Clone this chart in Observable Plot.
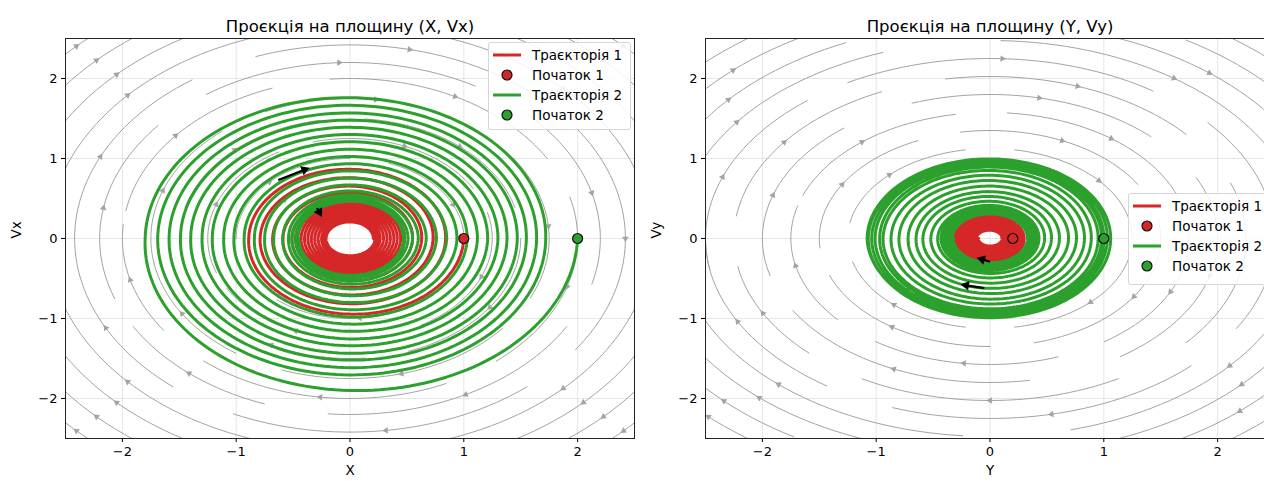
<!DOCTYPE html>
<html>
<head>
<meta charset="utf-8">
<script src="https://cdn.jsdelivr.net/npm/d3@7"></script>
<script src="https://cdn.jsdelivr.net/npm/@observablehq/plot@0.6"></script>
<style>
  html, body { margin: 0; padding: 0; background: #fff; }
  body { width: 1264px; height: 481px; overflow: hidden; position: relative; font-family: "DejaVu Sans", sans-serif; }
  .panel { position: absolute; top: 0; width: 640px; height: 481px; }
  .panel svg { max-width: none !important; display: block; }
  .legend { position: absolute; background: rgba(255,255,255,0.85); border: 1px solid #d6d6d6; border-radius: 3px; font-size: 13.5px; color: #000; box-sizing: border-box; }
  .legend .row { position: absolute; left: 0; height: 20px; display: flex; align-items: center; white-space: nowrap; }
  .legend .row svg { margin-left: 4px; margin-right: 11px; }
</style>
</head>
<body>
<div id="left" class="panel" style="left:0px"></div>
<div id="right" class="panel" style="left:640px"></div>
<div id="legendLeft" class="legend" style="left:488px; top:42px; width:143px; height:88px;"></div>
<div id="legendRight" class="legend" style="left:1128px; top:193px; width:150px; height:92px;"></div>
<script>
// ---------------- data ----------------
const RED = "#d62728", GREEN = "#2ca02c";
const ticks = [-2, -1, 0, 1, 2];
const domain = [-2.5, 2.5];

const titles = ["Проєкція на площину (X, Vx)", "Проєкція на площину (Y, Vy)"];
const xLabels = ["X", "Y"];
const yLabels = ["Vx", "Vy"];

const legendLabels = ["Траєкторія 1", "Початок 1", "Траєкторія 2", "Початок 2"];
const legendKinds = ["line", "dot", "line", "dot"];
const legendColors = [RED, RED, GREEN, GREEN];

// Trajectory amplitudes at successive crossings of the position axis
// (even index: right crossing, odd index: left crossing)
const xRed = [1.00, 0.89, 0.84, 0.79, 0.73, 0.68, 0.63, 0.59, 0.55, 0.51, 0.48, 0.46, 0.445, 0.43, 0.415, 0.40, 0.385, 0.37, 0.355, 0.34, 0.325, 0.31, 0.295, 0.28, 0.265, 0.25, 0.24, 0.23, 0.22, 0.21, 0.205];
const xGreen = [2.00, 1.80, 1.72, 1.69, 1.64, 1.59, 1.55, 1.49, 1.47, 1.40, 1.38, 1.30, 1.30, 1.21, 1.21, 1.11, 1.12, 1.02, 1.03, 0.93, 0.94, 0.84, 0.85, 0.75, 0.76, 0.67, 0.67, 0.59, 0.60, 0.54, 0.55, 0.51, 0.51, 0.48, 0.48, 0.46, 0.47, 0.45];
const yRed = [0.20, 0.22, 0.24, 0.27, 0.28, 0.31, 0.30, 0.32, 0.29, 0.30, 0.27, 0.28, 0.25, 0.26, 0.23, 0.24, 0.21, 0.22, 0.19, 0.20, 0.17, 0.18, 0.15, 0.16, 0.13, 0.14, 0.115, 0.12, 0.105, 0.10];
const yGreen = [1.00, 1.08, 1.06, 1.07, 1.03, 1.04, 1.00, 1.01, 0.98, 0.97, 0.95, 0.94, 0.89, 0.87, 0.83, 0.80, 0.76, 0.72, 0.69, 0.65, 0.61, 0.59, 0.54, 0.52, 0.48, 0.46, 0.43, 0.43, 0.42, 0.41, 0.40, 0.39, 0.38, 0.37, 0.36, 0.35, 0.34, 0.33, 0.33, 0.32];
// velocity/position amplitude ratio of each projection
const xRatio = [1.0, 1.0];
const yRatio = [0.92, 0.93];

// start points
const xStartPos = [1, 2], xStartVel = [0, 0];
const yStartPos = [0.2, 1], yStartVel = [0, 0];

// black direction arrows (from -> to)
const xArrowX1 = [-0.63, -0.29], xArrowY1 = [0.73, 0.38], xArrowX2 = [-0.40, -0.27], xArrowY2 = [0.86, 0.33];
const yArrowX1 = [-0.05, 0.00], yArrowY1 = [-0.62, -0.29], yArrowX2 = [-0.21, -0.07], yArrowY2 = [-0.585, -0.26];

// gray streamline arcs: radius, start angle, end angle (degrees, flow runs clockwise)
const xStreamR    = [3.4, 3.4, 3.4, 3.4, 3.15, 3.15, 3.15, 3.15, 2.9, 2.9, 2.9, 2.9, 2.65, 2.65, 2.65, 2.65, 2.42, 2.42, 2.42, 2.42, 2.42, 2.2, 2.2, 2.2, 2.2, 2.2, 2.0, 2.0, 2.0, 2.0, 2.0, 1.75, 1.75, 1.75, 1.75, 1.75, 1.5, 1.5, 1.5, 1.5, 1.25, 1.25, 1.25, 1.25, 1.0, 1.0, 1.0, 0.75, 0.75];
const xStreamFrom = [150, 60, -30, -120, 155, 65, -25, -115, 160, 70, -20, -110, 175, 80, -10, -100, 185, 110, 35, -50, -130, 200, 125, 45, -30, -110, 170, 95, 15, -65, -145, 190, 115, 35, -40, -125, 165, 85, 0, -85, 200, 105, 15, -75, 180, 70, -40, 200, 60];
const xStreamTo   = [120, 30, -60, -150, 115, 25, -65, -155, 110, 20, -70, -160, 100, 10, -80, -175, 125, 45, -35, -115, -175, 140, 60, -15, -95, -150, 110, 30, -50, -130, -185, 130, 50, -25, -110, -170, 100, 15, -70, -150, 120, 30, -60, -150, 90, -20, -130, 80, -60];

const yStreamR    = [3.5, 3.5, 3.5, 3.5, 3.25, 3.25, 3.25, 3.25, 3.0, 3.0, 3.0, 3.0, 2.75, 2.75, 2.75, 2.75, 2.5, 2.5, 2.5, 2.5, 2.5, 2.25, 2.25, 2.25, 2.25, 2.25, 2.0, 2.0, 2.0, 2.0, 1.75, 1.75, 1.75, 1.75, 1.75, 1.5, 1.5, 1.5, 1.5, 1.25, 1.25, 1.25, 1.25];
const yStreamFrom = [155, 62, -28, -118, 150, 58, -30, -122, 165, 75, -15, -105, 178, 88, -5, -95, 190, 120, 40, -45, -125, 172, 100, 20, -60, -135, 195, 110, 25, -80, 160, 85, 5, -70, -140, 185, 100, 10, -90, 170, 80, -10, -100];
const yStreamTo   = [122, 28, -62, -152, 118, 22, -65, -150, 115, 25, -70, -160, 110, 20, -75, -170, 130, 55, -30, -110, -180, 115, 40, -40, -120, -170, 130, 45, -55, -150, 100, 20, -55, -125, -195, 115, 30, -75, -160, 100, 0, -80, -165];

// ---------------- layout ----------------
const W = 640, H = 481, mL = 65, mR = 6, mT = 38, mB = 43;
const kx = (W - mL - mR) / (domain[1] - domain[0]);
const ky = (H - mT - mB) / (domain[1] - domain[0]);
const fmt = d => (d < 0 ? "\u2212" : "") + Math.abs(d);
const screenAngle = (dx, dy) => Math.atan2(dx * kx, dy * ky) * 180 / Math.PI; // data direction -> dot rotation

function spiralPoints(amps, ratio) {
  const pts = [];
  const steps = 90;
  for (let k = 0; k < amps.length - 1; k++) {
    for (let i = 0; i < steps; i++) {
      const t = i / steps;
      const th = Math.PI * (k + t);
      const r = amps[k] + (amps[k + 1] - amps[k]) * t;
      pts.push({x: r * Math.cos(th), y: -ratio * r * Math.sin(th)});
    }
  }
  const n = amps.length - 1, th = Math.PI * n, r = amps[n];
  pts.push({x: r * Math.cos(th), y: -ratio * r * Math.sin(th)});
  return pts;
}

function streamData(R, A0, A1, ratio) {
  const pts = [], heads = [];
  R.forEach((r, i) => {
    const a0 = A0[i], a1 = A1[i];
    const n = Math.max(4, Math.round(Math.abs(a0 - a1) / 2));
    for (let j = 0; j <= n; j++) {
      const a = (a0 + (a1 - a0) * j / n) * Math.PI / 180;
      pts.push({id: i, x: r * Math.cos(a), y: ratio * r * Math.sin(a)});
    }
    const am = ((a0 + a1) / 2) * Math.PI / 180;
    heads.push({x: r * Math.cos(am), y: ratio * r * Math.sin(am), rot: screenAngle(Math.sin(am), -ratio * Math.cos(am))});
  });
  return {pts, heads};
}

function panel(p) {
  const red = spiralPoints(p.red, p.ratio[0]);
  const green = spiralPoints(p.green, p.ratio[1]);
  const st = streamData(p.sR, p.sF, p.sT, p.sRatio);
  const starts = p.startPos.map((v, i) => ({x: v, y: p.startVel[i], c: i === 0 ? RED : GREEN}));
  const arrows = p.ax1.map((v, i) => ({x1: v, y1: p.ay1[i], x2: p.ax2[i], y2: p.ay2[i],
    rot: screenAngle(p.ax2[i] - v, p.ay2[i] - p.ay1[i])}));
  return Plot.plot({
    width: W, height: H, marginLeft: mL, marginRight: mR, marginTop: mT, marginBottom: mB,
    x: {domain}, y: {domain},
    style: {fontFamily: "'DejaVu Sans', sans-serif", fontSize: "13px", color: "#000", background: "transparent", overflow: "visible"},
    marks: [
      Plot.gridX(ticks, {stroke: "#b0b0b0", strokeOpacity: 0.4, strokeWidth: 0.8}),
      Plot.gridY(ticks, {stroke: "#b0b0b0", strokeOpacity: 0.4, strokeWidth: 0.8}),
      Plot.line(st.pts, {x: "x", y: "y", z: "id", stroke: "#a3a3a3", strokeWidth: 1, clip: true}),
      Plot.dot(st.heads, {x: "x", y: "y", symbol: "triangle", r: 2.4, fill: "#a3a3a3", stroke: "none", rotate: "rot", clip: true}),
      Plot.line(red, {x: "x", y: "y", stroke: RED, strokeWidth: 3, clip: true}),
      Plot.line(green, {x: "x", y: "y", stroke: GREEN, strokeWidth: 3, clip: true}),
      Plot.dot(starts, {x: "x", y: "y", r: 5, fill: "c", stroke: "#111", strokeWidth: 1.2}),
      Plot.link(arrows, {x1: "x1", y1: "y1", x2: "x2", y2: "y2", stroke: "black", strokeWidth: 2.2}),
      Plot.dot(arrows, {x: "x2", y: "y2", symbol: "triangle", r: 3.6, fill: "black", stroke: "none", rotate: "rot"}),
      Plot.frame({stroke: "#222", strokeWidth: 1}),
      Plot.axisX({ticks, tickFormat: fmt, tickSize: 4, tickPadding: 4, fontSize: 13, label: null}),
      Plot.axisY({ticks, tickFormat: fmt, tickSize: 4, tickPadding: 4, fontSize: 13, label: null}),
      Plot.text([p.xLabel], {frameAnchor: "bottom", dy: 36, fontSize: 13.5}),
      Plot.text([p.yLabel], {frameAnchor: "left", dx: -49, rotate: -90, fontSize: 13.5}),
      Plot.text([p.title], {frameAnchor: "top", dy: -18, fontSize: 16.5})
    ]
  });
}

document.getElementById("left").appendChild(panel({
  red: xRed, green: xGreen, ratio: xRatio,
  sR: xStreamR, sF: xStreamFrom, sT: xStreamTo, sRatio: 1.0,
  startPos: xStartPos, startVel: xStartVel,
  ax1: xArrowX1, ay1: xArrowY1, ax2: xArrowX2, ay2: xArrowY2,
  xLabel: xLabels[0], yLabel: yLabels[0], title: titles[0]
}));
document.getElementById("right").appendChild(panel({
  red: yRed, green: yGreen, ratio: yRatio,
  sR: yStreamR, sF: yStreamFrom, sT: yStreamTo, sRatio: 0.9,
  startPos: yStartPos, startVel: yStartVel,
  ax1: yArrowX1, ay1: yArrowY1, ax2: yArrowX2, ay2: yArrowY2,
  xLabel: xLabels[1], yLabel: yLabels[1], title: titles[1]
}));

function buildLegend(el) {
  legendLabels.forEach((lab, i) => {
    const row = document.createElement("div");
    row.className = "row";
    row.style.top = (2 + i * 20) + "px";
    const ns = "http://www.w3.org/2000/svg";
    const svg = document.createElementNS(ns, "svg");
    svg.setAttribute("width", 28); svg.setAttribute("height", 12);
    if (legendKinds[i] === "line") {
      const l = document.createElementNS(ns, "line");
      l.setAttribute("x1", 0); l.setAttribute("x2", 28); l.setAttribute("y1", 6); l.setAttribute("y2", 6);
      l.setAttribute("stroke", legendColors[i]); l.setAttribute("stroke-width", 3);
      svg.appendChild(l);
    } else {
      const c = document.createElementNS(ns, "circle");
      c.setAttribute("cx", 14); c.setAttribute("cy", 6); c.setAttribute("r", 5);
      c.setAttribute("fill", legendColors[i]); c.setAttribute("stroke", "#111"); c.setAttribute("stroke-width", 1.2);
      svg.appendChild(c);
    }
    row.appendChild(svg);
    const span = document.createElement("span");
    span.textContent = lab;
    row.appendChild(span);
    el.appendChild(row);
  });
}
buildLegend(document.getElementById("legendLeft"));
buildLegend(document.getElementById("legendRight"));
</script>
</body>
</html>
